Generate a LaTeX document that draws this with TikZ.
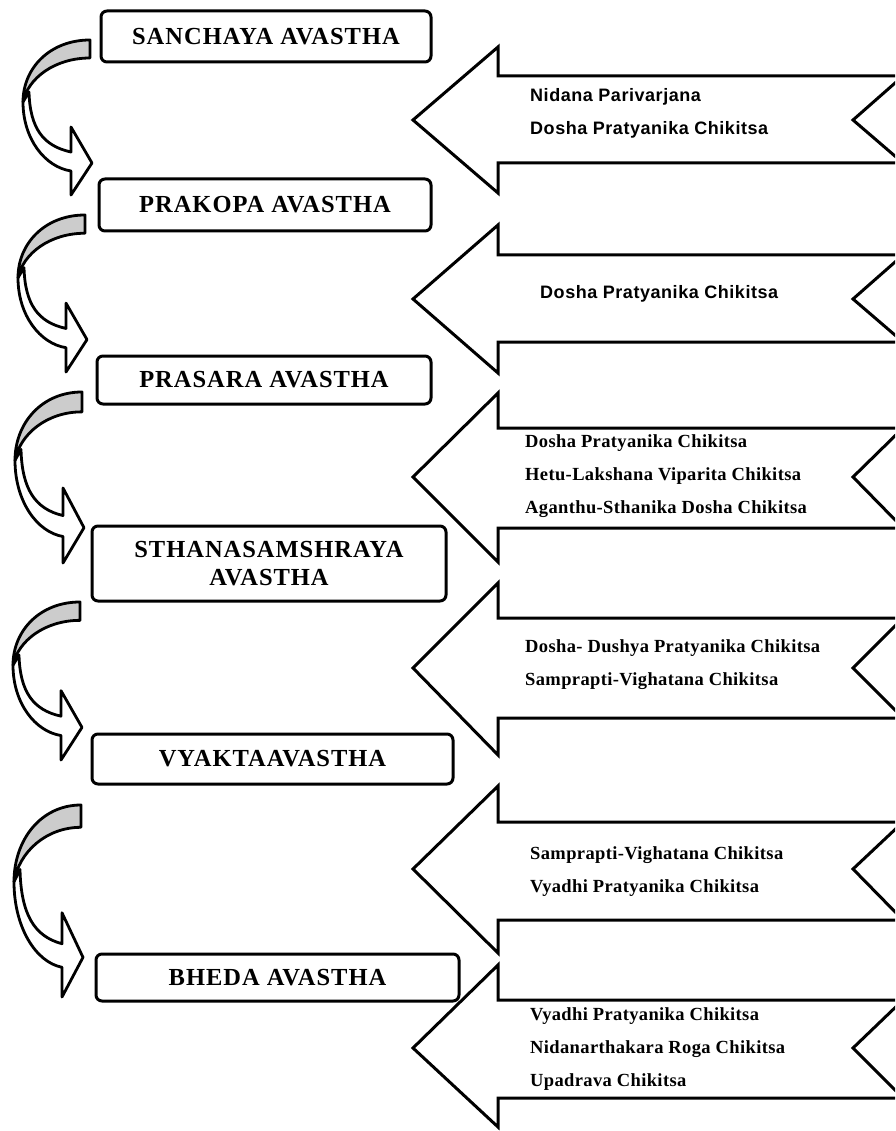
\documentclass[tikz,border=0pt]{standalone}
\usepackage{fontspec}
\setmainfont{Liberation Serif}
\newfontfamily\arialfont{Liberation Sans}
\begin{document}
\begin{tikzpicture}[x=1pt, y=-1pt,
    stage/.style={draw, line width=3pt, rounded corners=6pt, align=center, inner sep=0pt,
      font=\bfseries\fontsize{24.5}{28}\selectfont\addfontfeature{LetterSpace=4}},
    block/.style={draw, line width=3pt, fill=white, line join=miter},
    twist/.style={draw, line width=2.8pt, line join=round},
    cure/.style={anchor=west, align=left, inner sep=0pt,
      font=\bfseries\fontsize{18.5}{33}\selectfont\addfontfeature{LetterSpace=2}},
    sanscure/.style={cure, font=\arialfont\bfseries\fontsize{18}{33}\selectfont\addfontfeature{LetterSpace=3}}
]
\useasboundingbox (0,0) rectangle (895,1131);
\clip (0,0) rectangle (895,1131);

% treatment arrows, pointing left
\foreach \ya/\yb/\yc/\yd/\ye in {120/47/193/76/163, 299/225/373/255/342, 477/393/562/428/528,
    668/583/755/618/718, 869/786/953/822/920, 1048/965/1127/1000/1098}
  \draw[block] (413,\ya) -- (498,\yb) -- (498,\yd) -- (903,\yd) -- (853,\ya)
    -- (903,\ye) -- (498,\ye) -- (498,\yc) -- cycle;

% curved arrows between stages
\foreach \cx/\cy/\ch in {90/40/155, 85/215/157, 82/392/171, 80/602/158, 81/805/192}
{
  \begin{scope}[shift={(\cx,\cy)}, yscale=\ch/155]
    \draw[twist, fill=white] (-67,62) .. controls (-67,99) and (-45,127) .. (-19,131)
      -- (-19,155) -- (2,123) -- (-19,87) -- (-19,112)
      .. controls (-47,106) and (-60,88) .. (-61,52) -- cycle;
    \draw[twist, fill=gray!40] (0,0) .. controls (-40,0) and (-67,28) .. (-67,62)
      .. controls (-62,38) and (-35,18) .. (0,18) -- cycle;
  \end{scope}
}

% stages
\node[stage, minimum width=330pt, minimum height=51pt] (S1) at (266,36.5) {SANCHAYA AVASTHA};
\node[stage, minimum width=332pt, minimum height=52pt] (S2) at (265,205) {PRAKOPA AVASTHA};
\node[stage, minimum width=334pt, minimum height=48pt] (S3) at (264,380) {PRASARA AVASTHA};
\node[stage, minimum width=354pt, minimum height=75pt] (S4) at (269,563.5) {STHANASAMSHRAYA\\AVASTHA};
\node[stage, minimum width=361pt, minimum height=50pt] (S5) at (272.5,759) {VYAKTAAVASTHA};
\node[stage, minimum width=363pt, minimum height=47pt] (S6) at (277.5,977.5) {BHEDA AVASTHA};

% treatments
\node[sanscure] (T1) at (530,113) {Nidana Parivarjana\\Dosha Pratyanika Chikitsa};
\node[sanscure] (T2) at (540,294) {Dosha Pratyanika Chikitsa};
\node[cure] (T3) at (525,476) {Dosha Pratyanika Chikitsa\\Hetu-Lakshana Viparita Chikitsa\\Aganthu-Sthanika Dosha Chikitsa};
\node[cure] (T4) at (525,665) {Dosha- Dushya Pratyanika Chikitsa\\Samprapti-Vighatana Chikitsa};
\node[cure] (T5) at (530,872) {Samprapti-Vighatana Chikitsa\\Vyadhi Pratyanika Chikitsa};
\node[cure] (T6) at (530,1049) {Vyadhi Pratyanika Chikitsa\\Nidanarthakara Roga Chikitsa\\Upadrava Chikitsa};

\end{tikzpicture}
\end{document}
